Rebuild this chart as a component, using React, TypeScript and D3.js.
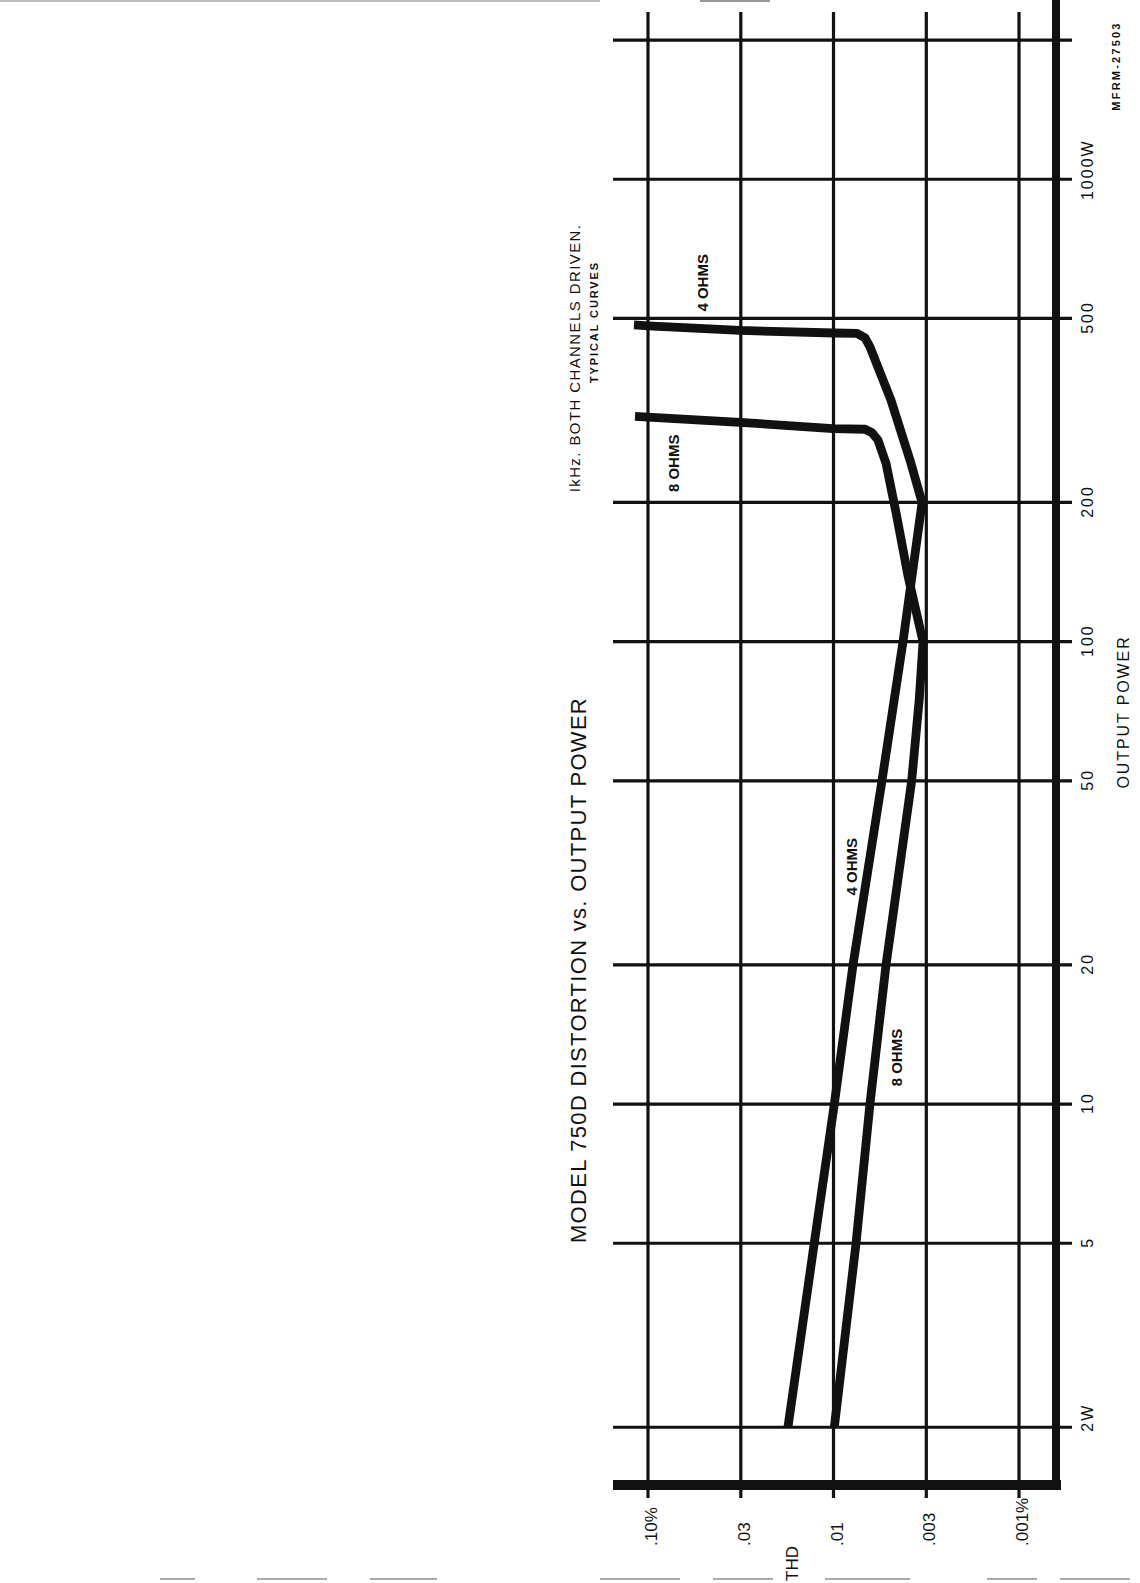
import React from 'react';
import * as d3 from 'd3';

// Output power axis (watts) – drawn vertically, THD axis (%) – drawn horizontally
const powerTicks = [2, 5, 10, 20, 50, 100, 200, 500, 1000, 2000];
const powerTickNumbers = ['2', '5', '10', '20', '50', '100', '200', '500', '1000', ''];
const powerTickUnits = ['W', '', '', '', '', '', '', '', 'W', ''];
const thdTicks = [0.1, 0.0316, 0.01, 0.00316, 0.001];
const thdTickLabels = ['.10%', '.03', '.01', '.003', '.001%'];

// 4 ohm curve: power (W) and THD (%)
const fourOhmPower = [2, 5, 10, 20, 50, 100, 200, 247, 333, 434, 454, 464, 465, 471, 482, 484];
const fourOhmThd = [0.0176, 0.0127, 0.0099, 0.00785, 0.00548, 0.00422, 0.00333, 0.00387, 0.0049, 0.00636, 0.00676, 0.00747, 0.0099, 0.0319, 0.1, 0.119];

// 8 ohm curve
const eightOhmPower = [2, 5, 10, 20, 50, 75, 100, 139, 190, 243, 273, 283, 288, 289, 298, 306, 307];
const eightOhmThd = [0.0099, 0.00756, 0.00636, 0.00521, 0.00379, 0.00345, 0.00329, 0.00397, 0.0046, 0.00521, 0.00576, 0.0062, 0.00676, 0.01006, 0.0319, 0.1, 0.1175];

// curve labels anchored in data space
const curveLabelText = ['4 OHMS', '8 OHMS', '4 OHMS', '8 OHMS'];
const curveLabelPower = [597, 243, 32.6, 12.6];
const curveLabelThd = [0.0508, 0.0724, 0.00795, 0.00455];

const W = 1140;
const H = 1583;
const plotLeft = 613;
const plotRight = 1056;
const plotTop = 12;
const plotBottom = 1485;
const FONT = 'Liberation Sans, Arial, Helvetica, sans-serif';
const INK = '#111';

export default function App() {
  const y = d3.scaleLog().domain([1.5, 2300]).range([plotBottom, plotTop]);
  const x = d3.scaleLog().domain([0.1, 0.001]).range([648, 1019]);

  const line = d3
    .line<[number, number]>()
    .x((d) => x(d[1]))
    .y((d) => y(d[0]))
    .curve(d3.curveLinear);

  const four: [number, number][] = fourOhmPower.map((p, i) => [p, fourOhmThd[i]]);
  const eight: [number, number][] = eightOhmPower.map((p, i) => [p, eightOhmThd[i]]);

  // rotated text helper: cx, cy = visual centre of glyph band
  const rtext = (
    key: string,
    txt: string,
    cx: number,
    cy: number,
    fs: number,
    opts: { anchor?: string; weight?: string | number; ls?: number } = {}
  ) => (
    <text
      key={key}
      transform={`translate(${cx + (fs * 0.716) / 2},${cy}) rotate(-90)`}
      textAnchor={opts.anchor || 'middle'}
      fontSize={fs}
      fontWeight={opts.weight || 'normal'}
      letterSpacing={opts.ls || 0}
      fontFamily={FONT}
      fill={INK}
    >
      {txt}
    </text>
  );

  const pFs = 16;
  const pLs = 2;

  return (
    <svg
      width={W}
      height={H}
      viewBox={`0 0 ${W} ${H}`}
      style={{ position: 'absolute', left: 0, top: 0, background: '#fff' }}
    >
      <rect x={0} y={0} width={W} height={H} fill="#fff" />

      {/* scan edge artefacts */}
      <line x1={0} x2={600} y1={1} y2={1} stroke="#bbb" strokeWidth={2} />
      <line x1={700} x2={770} y1={1} y2={1} stroke="#999" strokeWidth={2} />
      {[[160, 195], [257, 327], [370, 437], [600, 680], [713, 773], [825, 910], [987, 1037], [1060, 1130]].map(
        ([a, b], i) => (
          <line key={'b' + i} x1={a} x2={b} y1={1579} y2={1579} stroke="#aaa" strokeWidth={2} />
        )
      )}

      {/* horizontal grid (power) */}
      {powerTicks.map((p) => (
        <line key={'h' + p} x1={plotLeft} x2={1072} y1={y(p)} y2={y(p)} stroke={INK} strokeWidth={3.2} />
      ))}
      {/* vertical grid (THD) */}
      {thdTicks.map((t) => (
        <line key={'v' + t} x1={x(t)} x2={x(t)} y1={plotTop} y2={1498} stroke={INK} strokeWidth={3.2} />
      ))}

      {/* thick frame */}
      <rect x={plotLeft} y={plotBottom - 5} width={plotRight + 5 - plotLeft} height={10} fill={INK} />
      <rect x={plotRight - 4} y={0} width={8} height={plotBottom + 5} fill={INK} />

      {/* curves */}
      <path d={line(four) || ''} fill="none" stroke={INK} strokeWidth={8.8} strokeLinejoin="round" />
      <path d={line(eight) || ''} fill="none" stroke={INK} strokeWidth={8.8} strokeLinejoin="round" />

      {/* power tick labels */}
      {powerTicks.map((p, i) => {
        const num = powerTickNumbers[i];
        if (!num) return null;
        const numW = num.length * (0.556 * pFs + pLs) - pLs;
        return rtext('pl' + p, num + powerTickUnits[i], 1087, y(p) + numW / 2, pFs, { anchor: 'start', ls: pLs });
      })}

      {/* THD tick labels */}
      {thdTicks.map((t, i) => rtext('tl' + i, thdTickLabels[i], x(t) + 3, 1546, 17, { anchor: 'start' }))}
      {rtext('thd', 'THD', 792, 1581, 17, { anchor: 'start' })}

      {/* axis titles */}
      {rtext('op', 'OUTPUT POWER', 1123, 712, 16, { ls: 1.9 })}
      {rtext('mf', 'MFRM-27503', 1116, 66, 11, { weight: 'bold', ls: 2.2 })}
      {rtext('title', 'MODEL 750D DISTORTION vs. OUTPUT POWER', 578, 970, 22, { ls: 1.3 })}
      {rtext('sub1', 'IkHz.  BOTH CHANNELS DRIVEN.', 575, 358, 15, { ls: 1.4 })}
      {rtext('sub2', 'TYPICAL CURVES', 594, 322, 11, { weight: 'bold', ls: 1.9 })}

      {/* curve labels */}
      {curveLabelText.map((t, i) =>
        rtext('cl' + i, t, x(curveLabelThd[i]), y(curveLabelPower[i]), 15, { weight: 'bold' })
      )}
    </svg>
  );
}
